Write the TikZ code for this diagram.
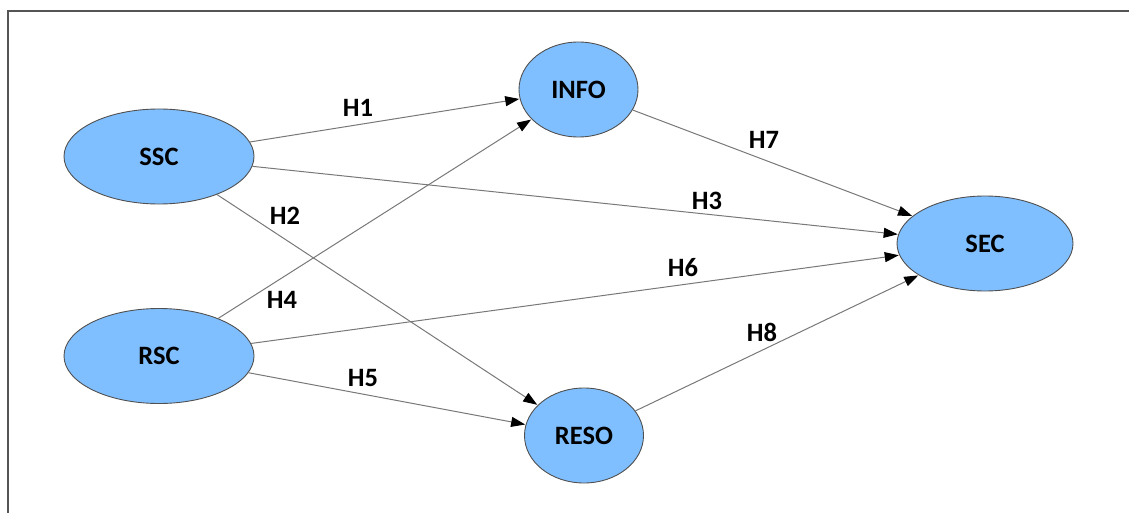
\documentclass[tikz,border=0pt]{standalone}
\usepackage{fontspec}
\setmainfont{Carlito}
\usetikzlibrary{shapes.geometric,arrows.meta}
\definecolor{nodefill}{RGB}{127,191,255}
\definecolor{nodeline}{RGB}{80,80,80}
\definecolor{edgeline}{RGB}{120,120,120}
\definecolor{framecol}{RGB}{85,85,85}
\tikzset{
  latent/.style={ellipse, draw=nodeline, line width=0.9pt, fill=nodefill, inner sep=0pt,
    font=\fontsize{26.5}{30}\selectfont\bfseries},
  path/.style={draw=edgeline, line width=1pt, -{Triangle[length=14pt,width=10pt,color=black]}, shorten >=0.5pt},
  hlab/.style={font=\fontsize{26.5}{30}\selectfont\bfseries, inner sep=0pt}
}
\begin{document}
\begin{tikzpicture}[x=1pt,y=-1pt]
\useasboundingbox (0,0) rectangle (1129,513);
\draw[framecol, line width=2pt] (8,513) -- (8,11) -- (1129,11);
\node[latent, minimum width=190pt, minimum height=95pt] (ssc) at (159,156.5) {SSC};
\node[latent, minimum width=190pt, minimum height=95pt] (rsc) at (159,356) {RSC};
\node[latent, minimum width=119pt, minimum height=95pt] (info) at (578.5,89.5) {INFO};
\node[latent, minimum width=119pt, minimum height=95pt] (reso) at (584,435.5) {RESO};
\node[latent, minimum width=176pt, minimum height=95pt] (sec) at (985,243.5) {SEC};
\draw[path] (ssc) -- (info);
\draw[path] (ssc) -- (reso);
\draw[path] (ssc) -- (sec);
\draw[path] (rsc) -- (info);
\draw[path] (rsc) -- (reso);
\draw[path] (rsc) -- (sec);
\draw[path] (info) -- (sec);
\draw[path] (reso) -- (sec);
\node[hlab] (h1) at (358,108) {H1};
\node[hlab] (h2) at (285,216) {H2};
\node[hlab] (h3) at (707,201) {H3};
\node[hlab] (h4) at (282,300) {H4};
\node[hlab] (h5) at (363,378) {H5};
\node[hlab] (h6) at (683,268) {H6};
\node[hlab] (h7) at (764,140) {H7};
\node[hlab] (h8) at (762,332) {H8};
\end{tikzpicture}
\end{document}
